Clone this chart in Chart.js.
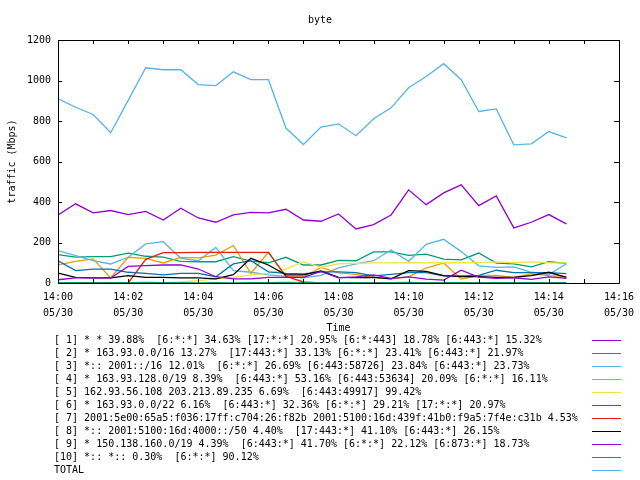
<!DOCTYPE html>
<html>
<head>
<meta charset="utf-8">
<script src="https://cdn.jsdelivr.net/npm/chart.js@4.4.0/dist/chart.umd.min.js"></script>
<style>
  body { margin: 0; background: #fff; }
  #wrap { width: 640px; height: 480px; }
</style>
</head>
<body>
<div id="wrap"><canvas id="byteChart" width="640" height="480"></canvas></div>
<script>
var times = ['14:00:00','14:00:30','14:01:00','14:01:30','14:02:00','14:02:30','14:03:00','14:03:30',
             '14:04:00','14:04:30','14:05:00','14:05:30','14:06:00','14:06:30','14:07:00','14:07:30',
             '14:08:00','14:08:30','14:09:00','14:09:30','14:10:00','14:10:30','14:11:00','14:11:30',
             '14:12:00','14:12:30','14:13:00','14:13:30','14:14:00','14:14:30'];

var s1 = [336,391,346,358,338,354,311,369,321,300,336,349,346,364,311,305,341,267,288,336,460,387,445,485,382,430,272,300,338,292];
var s2 = [140,128,130,130,147,132,128,107,105,105,130,108,100,127,89,89,112,110,154,154,136,143,118,114,148,98,94,80,105,97];
var s3 = [160,135,110,94,127,193,204,122,110,176,61,53,40,33,26,38,75,94,110,163,107,191,216,155,85,77,80,53,42,95];
var s4 = [89,107,119,25,127,122,99,127,124,138,185,48,152,31,31,77,50,43,28,20,30,74,99,20,36,38,28,45,36,31];
var s5 = [1,1,2,2,0,1,2,5,12,20,28,40,48,69,105,77,95,97,99,99,100,100,101,100,101,104,100,104,99,99];
var s6 = [110,61,69,69,53,48,40,48,48,31,94,110,55,48,45,55,55,51,35,43,51,51,35,35,38,63,51,51,51,46];
var s7 = [0,0,0,0,0,117,150,150,151,151,151,151,151,33,5,0,0,0,0,0,0,0,0,0,0,0,0,0,0,0];
var s8 = [49,28,25,25,36,28,28,25,25,20,41,122,89,40,40,60,28,27,28,20,61,57,36,31,31,28,28,36,53,28];
var s9 = [16,25,25,25,82,86,89,89,69,31,20,20,28,28,28,57,26,30,40,23,30,19,14,63,29,23,26,18,30,23];
var s10 = [2,2,1,2,2,3,2,2,1,2,1,2,2,3,2,1,2,2,1,2,3,1,2,2,1,2,2,2,1,2];
var total = [910,868,832,742,902,1063,1053,1053,980,975,1043,1004,1004,765,684,770,786,727,811,865,964,1020,1083,1004,847,860,682,687,748,717];

var labels = [
  '[ 1] * * 39.88%  [6:*:*] 34.63% [17:*:*] 20.95% [6:*:443] 18.78% [6:443:*] 15.32%',
  '[ 2] * 163.93.0.0/16 13.27%  [17:443:*] 33.13% [6:*:*] 23.41% [6:443:*] 21.97%',
  '[ 3] *:: 2001::/16 12.01%  [6:*:*] 26.69% [6:443:58726] 23.84% [6:443:*] 23.73%',
  '[ 4] * 163.93.128.0/19 8.39%  [6:443:*] 53.16% [6:443:53634] 20.09% [6:*:*] 16.11%',
  '[ 5] 162.93.56.108 203.213.89.235 6.69%  [6:443:49917] 99.42%',
  '[ 6] * 163.93.0.0/22 6.16%  [6:443:*] 32.36% [6:*:*] 29.21% [17:*:*] 20.97%',
  '[ 7] 2001:5e00:65a5:f036:17ff:c704:26:f82b 2001:5100:16d:439f:41b0:f9a5:7f4e:c31b 4.53%',
  '[ 8] *:: 2001:5100:16d:4000::/50 4.40%  [17:443:*] 41.10% [6:443:*] 26.15%',
  '[ 9] * 150.138.160.0/19 4.39%  [6:443:*] 41.70% [6:*:*] 22.12% [6:873:*] 18.73%',
  '[10] *:: *:: 0.30%  [6:*:*] 90.12%',
  'TOTAL'
];
var colors = ['#9400d3','#009e73','#56b4e9','#e69f00','#f0e442','#0072b2','#e51e10','#000000','#9400d3','#009e73','#56b4e9'];
var allSeries = [s1, s2, s3, s4, s5, s6, s7, s8, s9, s10, total];

var xTicks = ['14:00','14:02','14:04','14:06','14:08','14:10','14:12','14:14','14:16'];
var dateLabel = '05/30';
var yTicks = [0, 200, 400, 600, 800, 1000, 1200];

var FONT = "'DejaVu Sans Mono', monospace";

function toMinutes(t) {
    var p = t.split(':');
    return (parseInt(p[0], 10) - 14) * 60 + parseInt(p[1], 10) + parseInt(p[2], 10) / 60;
}

var datasets = allSeries.map(function (vals, i) {
    return {
        label: labels[i],
        data: vals.map(function (v, j) { return { x: toMinutes(times[j]), y: v }; }),
        borderColor: colors[i],
        backgroundColor: colors[i],
        borderWidth: 1.3,
        pointRadius: 0,
        tension: 0,
        order: -i
    };
});

// gnuplot style box with inward ticks + legend below
var gnuBox = {
    id: 'gnuBox',
    afterDraw: function (chart) {
        var ctx = chart.ctx, a = chart.chartArea;
        var xs = chart.scales.x, ys = chart.scales.y;
        ctx.save();
        ctx.strokeStyle = '#000';
        ctx.lineWidth = 1;
        ctx.beginPath();
        ctx.rect(Math.round(a.left) + 0.5, Math.round(a.top) + 0.5,
                 Math.round(a.right - a.left), Math.round(a.bottom - a.top));
        xs.ticks.forEach(function (t) {
            var px = Math.round(xs.getPixelForValue(t.value)) + 0.5;
            ctx.moveTo(px, a.bottom); ctx.lineTo(px, a.bottom - 4);
            ctx.moveTo(px, a.top); ctx.lineTo(px, a.top + 4);
        });
        ys.ticks.forEach(function (t) {
            var py = Math.round(ys.getPixelForValue(t.value)) + 0.5;
            ctx.moveTo(a.left, py); ctx.lineTo(a.left + 4, py);
            ctx.moveTo(a.right, py); ctx.lineTo(a.right - 5, py);
        });
        ctx.stroke();

        // legend
        ctx.font = '10px ' + FONT;
        ctx.textBaseline = 'middle';
        ctx.fillStyle = '#000';
        chart.data.datasets.forEach(function (ds, i) {
            var y = 340 + i * 13;
            ctx.fillText(ds.label, 54, y);
            ctx.strokeStyle = ds.borderColor;
            ctx.beginPath();
            ctx.moveTo(592, y + 0.5); ctx.lineTo(621, y + 0.5);
            ctx.stroke();
        });
        ctx.restore();
    }
};

var chart = new Chart(document.getElementById('byteChart').getContext('2d'), {
    type: 'line',
    data: { datasets: datasets },
    options: {
        responsive: false,
        animation: false,
        layout: { padding: { left: 0, right: 0, top: 0, bottom: 146 } },
        plugins: {
            legend: { display: false },
            tooltip: { enabled: false },
            title: {
                display: true,
                text: 'byte',
                color: '#000',
                font: { family: FONT, size: 10, weight: 'normal' },
                padding: { top: 14, bottom: 14 }
            }
        },
        scales: {
            x: {
                type: 'linear',
                min: 0,
                max: 16,
                grid: { display: false, drawTicks: false, tickLength: 0 },
                border: { display: false },
                afterBuildTicks: function (scale) {
                    var ticks = [];
                    for (var m = 0; m <= 16; m++) ticks.push({ value: m });
                    scale.ticks = ticks;
                },
                ticks: {
                    autoSkip: false,
                    maxRotation: 0,
                    padding: 6,
                    color: '#000',
                    font: { family: FONT, size: 10, lineHeight: 1.6 },
                    callback: function (v) {
                        if (v % 2 !== 0) return '';
                        return [xTicks[v / 2], dateLabel];
                    }
                },
                title: {
                    display: true,
                    text: 'Time',
                    color: '#000',
                    font: { family: FONT, size: 10 },
                    padding: { top: -5, bottom: 0 }
                }
            },
            y: {
                min: yTicks[0],
                max: yTicks[yTicks.length - 1],
                grid: { display: false, drawTicks: false, tickLength: 0 },
                border: { display: false },
                afterBuildTicks: function (scale) {
                    scale.ticks = yTicks.map(function (v) { return { value: v }; });
                },
                ticks: {
                    padding: 7,
                    color: '#000',
                    font: { family: FONT, size: 10 },
                    callback: function (v) { return String(v); }
                },
                title: {
                    display: true,
                    text: 'traffic (Mbps)',
                    color: '#000',
                    font: { family: FONT, size: 10 },
                    padding: { top: 6, bottom: 2 }
                }
            }
        }
    },
    plugins: [gnuBox]
});
</script>
</body>
</html>
